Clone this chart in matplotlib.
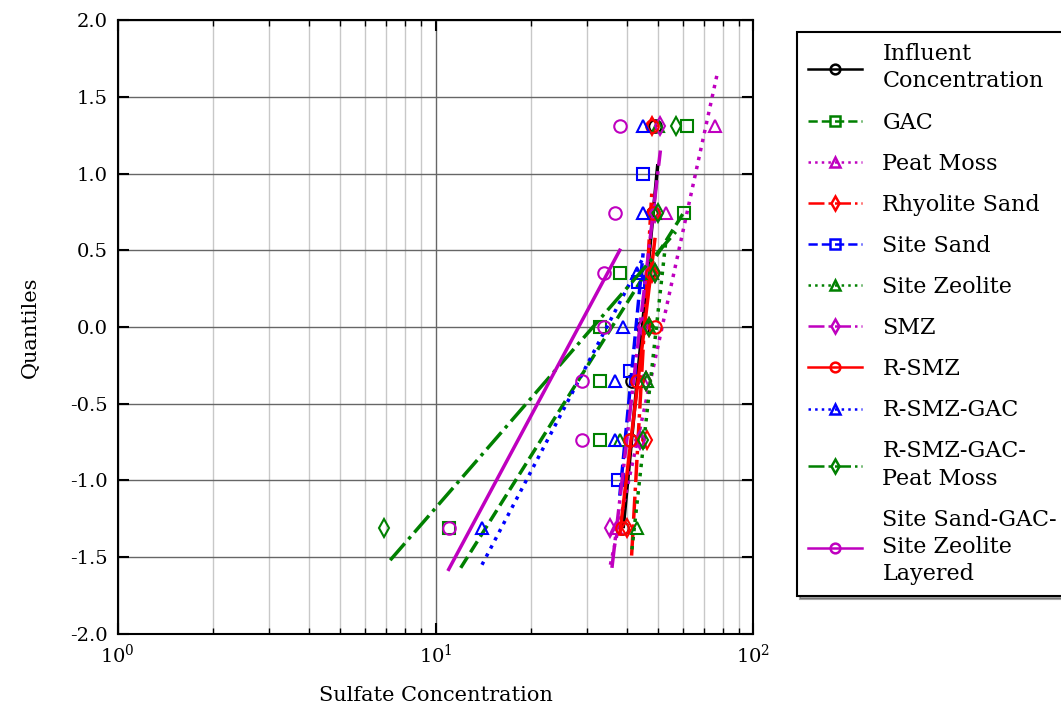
import matplotlib
matplotlib.use('Agg')
import matplotlib.pyplot as plt

plt.rcParams['font.family'] = ['DejaVu Serif']
plt.rcParams['mathtext.fontset'] = 'dejavuserif'
plt.rcParams['axes.unicode_minus'] = False

# normal quantiles of the plotted points
q7 = [-1.31, -0.74, -0.35, 0.0, 0.35, 0.74, 1.31]
q4 = [-1.0, -0.29, 0.29, 1.0]

# sulfate concentrations, per treatment
influent = [38.5, 41, 41.6, 45, 46.5, 48.5, 49]
gac = [11, 33, 33, 33, 38, 60.5, 62]
peat_moss = [37, 44, 45, 46, 48, 53, 76]
rhyolite = [40, 46.4, 46, 47, 48, 48.5, 48]
site_sand = [37.6, 41, 43.5, 45]
site_zeolite = [43, 38, 46.4, 47, 48, 49, 50]
smz = [35.3, 44, 46, 45, 49, 49, 51]
r_smz = [38.5, 41, 43, 49, 48, 48.5, 48]
r_smz_gac = [14, 36.7, 36.7, 39, 43, 45, 45]
r_smz_gac_pm = [6.9, 45, 46, 47, 49, 50, 57]
layered = [11, 29, 29, 34, 34, 36.6, 38]

# fitted line end points (x range, fitted quantile)
fit_x = [[39, 50], [12, 61], [35.5, 77], [41.4, 48], [38, 45], [41.5, 53],
         [35.9, 51], [38, 49], [14, 45], [7.2, 57], [11, 38]]
fit_q = [[-1.3, 1.05], [-1.57, 0.76], [-1.55, 1.65], [-1.49, 0.9], [-1.1, 0.48], [-1.45, 0.55],
         [-1.57, 1.15], [-1.35, 0.57], [-1.55, 0.45], [-1.52, 0.62], [-1.58, 0.5]]

labels = ['Influent\nConcentration', 'GAC', 'Peat Moss', 'Rhyolite Sand', 'Site Sand',
          'Site Zeolite', 'SMZ', 'R-SMZ', 'R-SMZ-GAC', 'R-SMZ-GAC-\nPeat Moss',
          'Site Sand-GAC-\nSite Zeolite\nLayered']
series = [influent, gac, peat_moss, rhyolite, site_sand, site_zeolite, smz,
          r_smz, r_smz_gac, r_smz_gac_pm, layered]
quant = [q7, q7, q7, q7, q4, q7, q7, q7, q7, q7, q7]
colors = ['k', 'g', 'm', 'r', 'b', 'g', 'm', 'r', 'b', 'g', 'm']
markers = ['o', 's', '^', 'd', 's', '^', 'd', 'o', '^', 'd', 'o']
styles = ['-', '--', ':', '-.', '--', ':', '-.', '-', ':', '-.', '-']

fig = plt.figure(figsize=(10.61, 7.17), dpi=100)
ax = fig.add_axes([0.111, 0.116, 0.599, 0.856])

for i in range(len(series)):
    ax.plot(series[i], quant[i], linestyle='none', marker=markers[i], ms=9,
            mfc='none', mec=colors[i], mew=1.5)
    ax.plot(fit_x[i], fit_q[i], linestyle=styles[i], color=colors[i], lw=2.5)
    # proxy for legend
    ax.plot([], [], linestyle=styles[i], color=colors[i], lw=1.8, marker=markers[i],
            ms=7, mfc='none', mec=colors[i], mew=1.8, label=labels[i])

ax.set_xscale('log')
ax.set_xlim(1, 100)
ax.set_ylim(-2, 2)
ax.set_yticks([-2, -1.5, -1, -0.5, 0, 0.5, 1, 1.5, 2])
ax.set_yticklabels(['-2.0', '-1.5', '-1.0', '-0.5', '0.0', '0.5', '1.0', '1.5', '2.0'])
ax.grid(True, which='major', color='#666666', lw=1)
ax.grid(True, which='minor', axis='x', color='#c8c8c8', lw=1)
ax.tick_params(which='both', direction='in', top=True, right=True, labelsize=14)
ax.tick_params(which='major', length=8, width=1.5, pad=7)
ax.tick_params(which='minor', length=4, width=1)
for s in ax.spines.values():
    s.set_linewidth(1.5)
ax.set_xlabel('Sulfate Concentration', fontsize=15, labelpad=14)
ax.set_ylabel('Quantiles', fontsize=15, labelpad=22)

handles, labs = ax.get_legend_handles_labels()
leg = fig.legend(handles, labs, loc='upper left', bbox_to_anchor=(0.751, 0.955),
                 fontsize=16, handlelength=2.45, handletextpad=0.9, borderpad=0.5,
                 fancybox=False, shadow=True, edgecolor='k', framealpha=1,
                 borderaxespad=0, labelspacing=0.86)
leg.get_frame().set_linewidth(1.5)
for t in leg.get_texts():
    t.set_linespacing(1.3)

fig.savefig('out.png', dpi=100)
